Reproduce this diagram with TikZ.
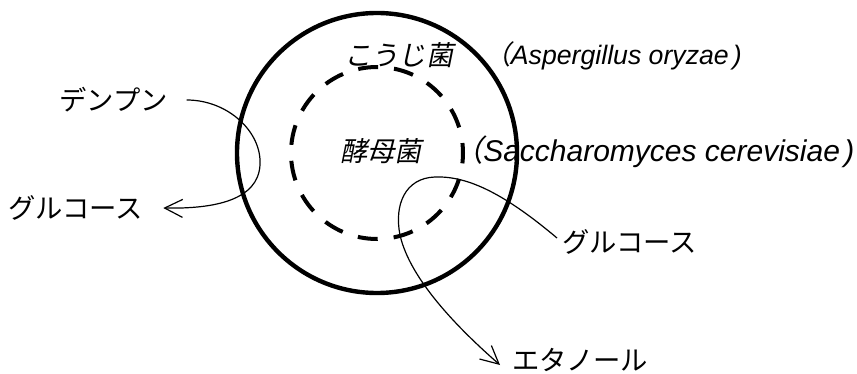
\documentclass[tikz,border=0pt]{standalone}
\usepackage{fontspec}
\setmainfont{Liberation Sans}
\newfontfamily\jp{Noto Sans CJK JP}
\newfontfamily\jpit[FakeSlant=0.2]{Noto Sans CJK JP}
\usetikzlibrary{arrows.meta}
\newcommand{\lpar}{\makebox[0.4em][r]{\jpit （}}
\newcommand{\rpar}{\hspace{0.15em}\textit{)}}
\begin{document}
\begin{tikzpicture}[x=0.75pt,y=-0.75pt,
  jlabel/.style={inner sep=0pt, anchor=west, font=\jp\fontsize{20.5}{22}\selectfont},
  jitlabel/.style={inner sep=0pt, anchor=west, font=\jpit\fontsize{20.5}{22}\selectfont},
  flow/.style={line width=0.9pt, -{Straight Barb[length=13.5pt,width=13.5pt,line width=0.9pt]}},
  cell/.style={line width=3.3pt},
  yeast/.style={line width=3pt, dash pattern=on 15pt off 12pt, dash phase=7.5pt}]
\useasboundingbox (0,0) rectangle (857,374);
% cells
\coordinate (c) at (377,153);
\draw[cell] (c) circle[radius=105pt];
\draw[yeast] (c) circle[radius=64.5pt];
% labels
\node[jitlabel] (koji) at (344,55) {こうじ菌};
\node[jitlabel] (yeastname) at (340,151) {酵母菌};
\node[inner sep=0pt, anchor=west, font=\fontsize{20}{22}\selectfont] (asp) at (500,56)
  {\lpar\textit{Aspergillus oryzae}\rpar};
\node[inner sep=0pt, anchor=west, font=\fontsize{22.5}{24}\selectfont] (sac) at (471,152)
  {\lpar\textit{Saccharomyces cerevisiae}\rpar};
\node[jlabel] (starch) at (59,100) {デンプン};
\node[jlabel] (glu1) at (8,208) {グルコース};
\node[jlabel] (glu2) at (562,242) {グルコース};
\node[jlabel] (eth) at (512,360) {エタノール};
% connectors
\draw[flow] ([xshift=14pt]starch.east) .. controls (228,100) and (262,132) .. (260,165)
  .. controls (258,200) and (215,209) .. ([xshift=15pt]glu1.east);
\draw[flow] ([xshift=-3.75pt,yshift=3pt]glu2.west) .. controls (500,190) and (465,176) .. (435,177)
  .. controls (405,178) and (394,205) .. (400,235)
  .. controls (410,280) and (460,330) .. ([xshift=-9pt,yshift=-3.75pt]eth.west);
\end{tikzpicture}
\end{document}
